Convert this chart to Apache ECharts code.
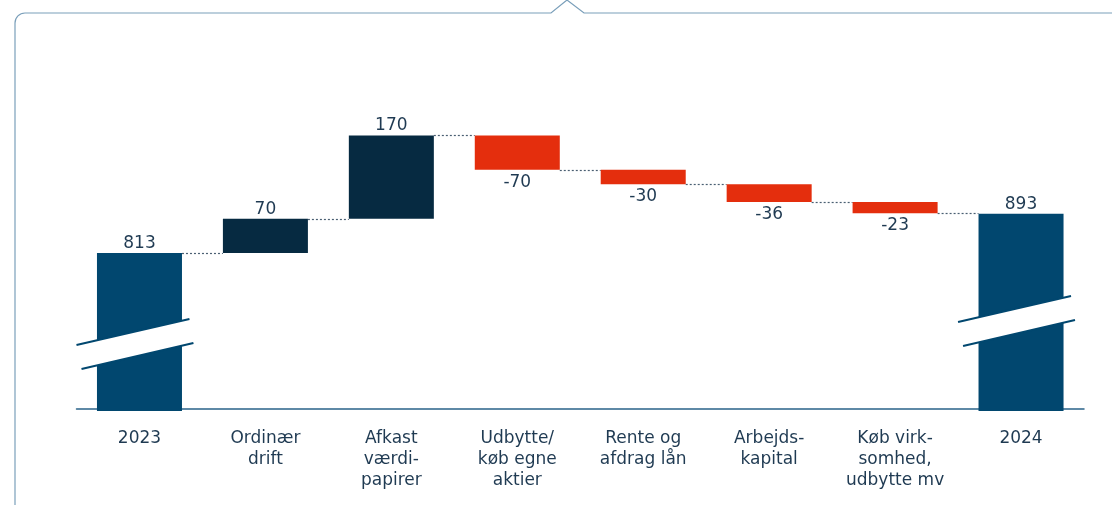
<!DOCTYPE html>
<html><head><meta charset="utf-8">
<script src="https://cdn.jsdelivr.net/npm/echarts@6/dist/echarts.min.js"></script>
<style>html,body{margin:0;padding:0;background:#fff}#c{width:1112px;height:505px}</style>
</head><body><div id="c"></div>
<script>
// ---- data ----
const categories = ['2023', 'Ordinær\ndrift', 'Afkast\nværdi-\npapirer', 'Udbytte/\nkøb egne\naktier', 'Rente og\nafdrag lån', 'Arbejds-\nkapital', 'Køb virk-\nsomhed,\nudbytte mv', '2024'];
const values = [813, 70, 170, -70, -30, -36, -23, 893];
const isTotal = [true, false, false, false, false, false, false, true];
const breakCategories = [0, 7];
const breakLevels = [627, 674];

// ---- style ----
const TOTAL = '#01476f', POS = '#062a41', NEG = '#e42e0d', TXT = '#1f3a52';
const FONT = 'DejaVu Sans';
const BAR_RATIO = 0.675;

const totalData = [], baseData = [], deltaData = [], levels = [];
let running = 0;
values.forEach((v, i) => {
  if (isTotal[i]) {
    totalData.push(v); baseData.push('-'); deltaData.push('-'); running = v;
  } else {
    const next = running + v;
    totalData.push('-');
    baseData.push(Math.min(running, next));
    deltaData.push({
      value: Math.abs(v),
      itemStyle: { color: v >= 0 ? POS : NEG },
      label: { position: v >= 0 ? 'top' : 'bottom', distance: v >= 0 ? 1 : 4, formatter: String(v) }
    });
    running = next;
  }
  levels.push(running);
});
const connectorData = levels.slice(0, -1).map((l, i) => [i, l]);
const breakData = breakCategories.map((c, i) => [c, breakLevels[i]]);

const chart = echarts.init(document.getElementById('c'), null, { renderer: 'canvas' });
const labelStyle = { color: TXT, fontFamily: FONT, fontSize: 17 };

chart.setOption({
  animation: false,
  backgroundColor: '#fff',
  graphic: [
    { type: 'polyline', shape: { points: [[15, 506], [15, 23]] }, style: { stroke: '#7a9fba', lineWidth: 1.2, fill: null } },
    { type: 'arc', shape: { cx: 25, cy: 23, r: 10, startAngle: Math.PI, endAngle: Math.PI * 1.5 }, style: { stroke: '#7a9fba', lineWidth: 1.2, fill: null } },
    { type: 'polyline', shape: { points: [[25, 13], [551, 13], [567, 0], [584, 13], [1113, 13]] }, style: { stroke: '#7a9fba', lineWidth: 1.2, fill: null } }
  ],
  grid: { left: 76.5, right: 28, top: 39, bottom: 94 },
  xAxis: {
    type: 'category', data: categories, offset: -2,
    axisTick: { show: false },
    axisLine: { lineStyle: { color: '#2a6389', width: 1.5 } },
    axisLabel: { interval: 0, margin: 19, lineHeight: 21, ...labelStyle }
  },
  yAxis: { type: 'value', min: 490, max: 1250, show: false, splitLine: { show: false } },
  series: [
    {
      name: 'total', type: 'bar', data: totalData, barWidth: (BAR_RATIO * 100) + '%', barGap: '-100%',
      itemStyle: { color: TOTAL },
      label: { show: true, position: 'top', distance: 1, ...labelStyle }
    },
    {
      name: 'base', type: 'bar', stack: 'w', data: baseData, barWidth: (BAR_RATIO * 100) + '%',
      itemStyle: { color: 'transparent' }, silent: true
    },
    {
      name: 'delta', type: 'bar', stack: 'w', data: deltaData, barWidth: (BAR_RATIO * 100) + '%',
      label: { show: true, ...labelStyle }
    },
    {
      name: 'connector', type: 'custom', data: connectorData, z: 1,
      encode: { x: 0, y: 1 },
      renderItem: function (params, api) {
        const i = api.value(0), lv = api.value(1);
        const p0 = api.coord([i, lv]), p1 = api.coord([i + 1, lv]);
        const hw = api.size([1, 0])[0] * BAR_RATIO / 2;
        const y = Math.round(p0[1]) + 0.5;
        return { type: 'line', shape: { x1: p0[0] + hw, y1: y, x2: p1[0] - hw, y2: y },
          style: { stroke: '#4a5f72', lineWidth: 1.2, lineDash: [2, 2] } };
      }
    },
    {
      name: 'break', type: 'custom', data: breakData, z: 5,
      encode: { x: 0, y: 1 },
      renderItem: function (params, api) {
        const c = api.coord([api.value(0), api.value(1)]);
        const k = api.size([1, 0])[0] / 126;
        const P = (dx, dy) => [c[0] + dx * k, c[1] + dy * k];
        const a = P(-63, 1), b = P(50, -25), d = P(54, -1), e = P(-58, 25);
        return { type: 'group', children: [
          { type: 'polygon', shape: { points: [a, b, d, e] }, style: { fill: '#fff' } },
          { type: 'line', shape: { x1: a[0], y1: a[1], x2: b[0], y2: b[1] }, style: { stroke: TOTAL, lineWidth: 2 } },
          { type: 'line', shape: { x1: e[0], y1: e[1], x2: d[0], y2: d[1] }, style: { stroke: TOTAL, lineWidth: 2 } }
        ] };
      }
    }
  ]
});
</script>
</body></html>
